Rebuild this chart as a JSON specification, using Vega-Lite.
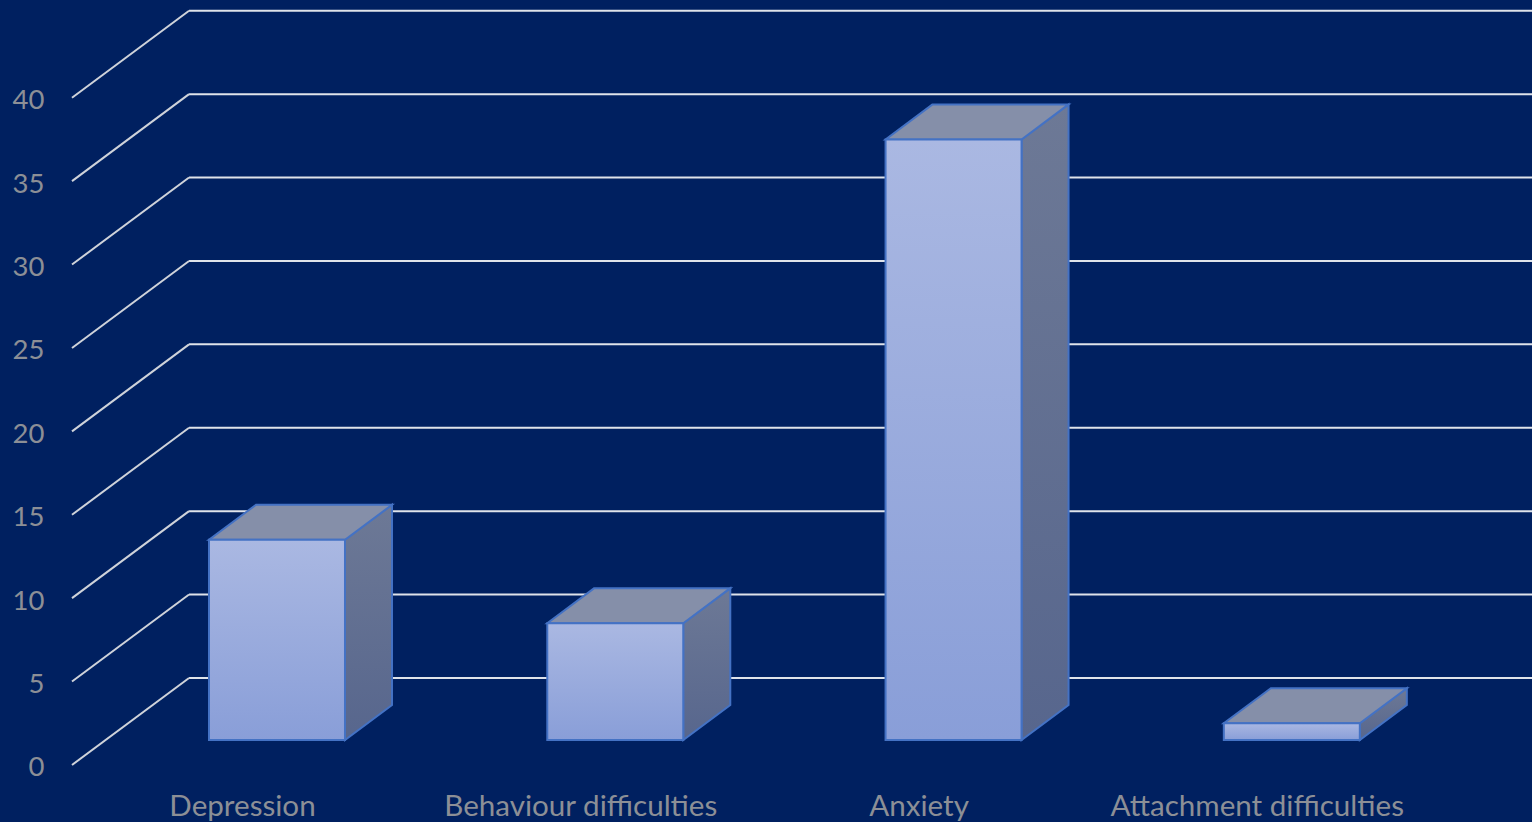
{"$schema":"https://vega.github.io/schema/vega-lite/v6.json","width":1460,"height":790,"padding":{"left":72,"top":0,"right":0,"bottom":32},"autosize":{"type":"none"},"background":"#002060","config":{"view":{"stroke":null}},"datasets":{"bars":[{"category":"Depression","order":0,"value":12},{"category":"Behaviour difficulties","order":1,"value":7},{"category":"Anxiety","order":2,"value":36},{"category":"Attachment difficulties","order":3,"value":1}],"ticks":[{"tick":0},{"tick":5},{"tick":10},{"tick":15},{"tick":20},{"tick":25},{"tick":30},{"tick":35},{"tick":40}]},"layer":[{"data":{"name":"ticks"},"mark":{"type":"rule","stroke":"#dfe3ea","strokeWidth":2,"yOffset":-62},"encoding":{"y":{"field":"tick","type":"quantitative","scale":{"domain":[-3,44.36],"nice":false,"zero":false},"axis":{"values":[0,5,10,15,20,25,30,35,40],"title":null,"domain":false,"ticks":false,"grid":false,"labelOffset":28,"labelPadding":28,"labelColor":"#8c8f96","labelFont":"Lato","labelFontSize":27.5}},"x":{"datum":-0.26,"type":"quantitative","scale":{"domain":[-0.606,3.71],"nice":false,"zero":false},"axis":{"values":[0,1,2,3],"title":null,"domain":false,"ticks":false,"grid":false,"labelOffset":-35,"labelPadding":2,"labelLimit":500,"labelColor":"#8c8f96","labelFont":"Lato","labelFontSize":29.6,"labelExpr":"['Depression','Behaviour difficulties','Anxiety','Attachment difficulties'][datum.value]"}},"x2":{"datum":3.71}}},{"data":{"name":"ticks"},"mark":{"type":"rule","stroke":"#cfd3da","strokeWidth":2,"yOffset":25,"y2Offset":-62},"encoding":{"y":{"field":"tick","type":"quantitative"},"y2":{"field":"tick"},"x":{"datum":-0.606,"type":"quantitative"},"x2":{"datum":-0.26}}},{"data":{"name":"bars"},"transform":[{"calculate":"0","as":"d0"},{"calculate":"1","as":"d1"},{"fold":["d0","d1"],"as":["dk","depth"]},{"calculate":"datum.order+0.201+datum.depth*0.139","as":"sx"},{"calculate":"datum.value+datum.depth*2.1","as":"sy"},{"calculate":"datum.depth*2.1","as":"sy0"}],"mark":{"type":"area","stroke":"#4472c4","strokeWidth":2,"fill":{"gradient":"linear","x1":0,"y1":0,"x2":0,"y2":1,"stops":[{"offset":0,"color":"#6d7996"},{"offset":1,"color":"#57668d"}]}},"encoding":{"x":{"field":"sx","type":"quantitative"},"y":{"field":"sy","type":"quantitative"},"y2":{"field":"sy0"},"detail":{"field":"category","type":"nominal"}}},{"data":{"name":"bars"},"transform":[{"calculate":"0","as":"d0"},{"calculate":"1","as":"d1"},{"fold":["d0","d1"],"as":["dk","depth"]},{"calculate":"datum.order-0.201+datum.depth*0.139","as":"tx"},{"calculate":"datum.order+0.201+datum.depth*0.139","as":"tx2"},{"calculate":"datum.value+datum.depth*2.1","as":"ty"}],"mark":{"type":"area","orient":"horizontal","stroke":"#4472c4","strokeWidth":2,"fill":"#858fa9"},"encoding":{"y":{"field":"ty","type":"quantitative"},"x":{"field":"tx","type":"quantitative"},"x2":{"field":"tx2"},"detail":{"field":"category","type":"nominal"}}},{"data":{"name":"bars"},"transform":[{"calculate":"datum.order-0.201","as":"fx"},{"calculate":"datum.order+0.201","as":"fx2"}],"mark":{"type":"rect","stroke":"#4472c4","strokeWidth":2,"fill":{"gradient":"linear","x1":0,"y1":0,"x2":0,"y2":1,"stops":[{"offset":0,"color":"#aab8e2"},{"offset":1,"color":"#899ed8"}]}},"encoding":{"x":{"field":"fx","type":"quantitative"},"x2":{"field":"fx2"},"y":{"field":"value","type":"quantitative"},"y2":{"datum":0}}}]}
